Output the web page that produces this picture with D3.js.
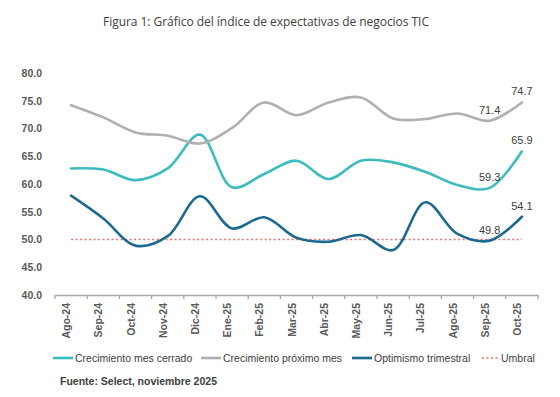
<!DOCTYPE html>
<html>
<head>
<meta charset="utf-8">
<script src="https://cdn.jsdelivr.net/npm/d3@7"></script>
<style>
  body { margin: 0; background: #fff; }
  #chart-container { width: 560px; height: 397px; }
  text { font-family: "Liberation Sans", Arial, sans-serif; }
</style>
</head>
<body>
<div id="chart-container"></div>
<script>
// Data.
const months = ["Ago-24", "Sep-24", "Oct-24", "Nov-24", "Dic-24", "Ene-25", "Feb-25", "Mar-25",
  "Abr-25", "May-25", "Jun-25", "Jul-25", "Ago-25", "Sep-25", "Oct-25"];
const mesCerrado = [62.8, 62.6, 60.7, 62.8, 68.9, 59.4, 61.8, 64.2, 60.9, 64.2, 63.9, 62.2, 59.8, 59.3, 65.9];
const proximoMes = [74.2, 72.0, 69.3, 68.7, 67.3, 70.1, 74.7, 72.4, 74.7, 75.6, 71.8, 71.7, 72.7, 71.4, 74.7];
const optimismo = [57.9, 53.8, 48.9, 50.6, 57.8, 52.0, 54.0, 50.3, 49.6, 50.8, 48.1, 56.7, 51.0, 49.8, 54.1];
const umbral = 50;
const yTicks = [40, 45, 50, 55, 60, 65, 70, 75, 80];

const series = [
  { name: "Crecimiento mes cerrado", values: mesCerrado, color: "#3dbcbf" },
  { name: "Crecimiento próximo mes", values: proximoMes, color: "#b0b0b0" },
  { name: "Optimismo trimestral", values: optimismo, color: "#1d6a91" }
];

// Sizing.
let margin = { top: 73, right: 22, bottom: 102, left: 55 },
  fWidth = 560,
  fHeight = 397,
  width = fWidth - margin.left - margin.right,
  height = fHeight - margin.top - margin.bottom;

let svg = d3.select("#chart-container").append("svg")
  .attr("width", fWidth)
  .attr("height", fHeight);

// Title.
svg.append("text")
  .attr("x", 266)
  .attr("y", 26)
  .attr("text-anchor", "middle")
  .style("font-family", "'Open Sans', 'Noto Sans', sans-serif")
  .style("font-size", "12px")
  .attr("fill", "#404040")
  .attr("textLength", 326)
  .text("Figura 1: Gráfico del índice de expectativas de negocios TIC");

let chart = svg.append("g")
  .attr("transform", `translate(${ margin.left } ${ margin.top })`);

// Scales.
let xScale = d3.scaleBand()
  .domain(months)
  .range([0, width]);
let bandwidth = xScale.bandwidth();

let yScale = d3.scaleLinear()
  .domain([40, 80])
  .range([height, 0]);

// X axis.
let xAxis = chart.append("g")
  .attr("transform", `translate(0 ${ height })`)
  .call(d3.axisBottom(xScale).tickSize(0));
xAxis.select(".domain").attr("stroke", "#a6a6a6").attr("stroke-width", 1.3);
xAxis.selectAll("text")
  .style("text-anchor", "end")
  .style("font-size", "10.5px")
  .style("font-weight", "bold")
  .attr("fill", "#595959")
  .attr("dx", -8)
  .attr("dy", -4)
  .attr("transform", "rotate(-90)");

// Boundary ticks between categories.
chart.append("g")
  .selectAll("line")
  .data(d3.range(months.length + 1))
  .enter()
  .append("line")
    .attr("x1", i => i * bandwidth)
    .attr("x2", i => i * bandwidth)
    .attr("y1", height)
    .attr("y2", height + 4)
    .attr("stroke", "#a6a6a6")
    .attr("stroke-width", 1.3);

// Y axis labels.
let yAxis = chart.append("g")
  .call(d3.axisLeft(yScale).tickValues(yTicks).tickFormat(d3.format(".1f")).tickSize(0).tickPadding(13));
yAxis.select(".domain").remove();
yAxis.selectAll("text")
  .style("font-size", "10.5px")
  .style("font-weight", "bold")
  .attr("fill", "#595959");

// Threshold line.
chart.append("line")
  .attr("x1", xScale(months[0]) + bandwidth / 2)
  .attr("x2", xScale(months[months.length - 1]) + bandwidth / 2)
  .attr("y1", yScale(umbral))
  .attr("y2", yScale(umbral))
  .attr("stroke", "#f26d6d")
  .attr("stroke-width", 1.3)
  .attr("stroke-dasharray", "2 2.5");

// Lines.
let pathGen = d3.line()
  .x((d, i) => xScale(months[i]) + bandwidth / 2)
  .y(d => yScale(d))
  .curve(d3.curveCatmullRom.alpha(0.5));

chart.append("g")
  .selectAll("path")
  .data(series)
  .enter()
  .append("path")
    .attr("d", d => pathGen(d.values))
    .attr("fill", "none")
    .attr("stroke", d => d.color)
    .attr("stroke-width", 2.6)
    .attr("stroke-linecap", "round");

// Data labels on last two points.
let labels = [];
series.forEach(s => {
  [months.length - 2, months.length - 1].forEach(i => {
    labels.push({ i: i, v: s.values[i] });
  });
});
chart.append("g")
  .selectAll("text")
  .data(labels)
  .enter()
  .append("text")
    .attr("x", d => xScale(months[d.i]) + bandwidth / 2)
    .attr("y", d => yScale(d.v) - 7)
    .attr("text-anchor", "middle")
    .style("font-size", "11px")
    .attr("fill", "#404040")
    .text(d => d3.format(".1f")(d.v));

// Legend.
let legendItems = [
  { name: series[0].name, color: series[0].color, x: 53, dash: null, w: 20, sw: 2.6 },
  { name: series[1].name, color: series[1].color, x: 201, dash: null, w: 20, sw: 2.6 },
  { name: series[2].name, color: series[2].color, x: 352, dash: null, w: 20, sw: 2.6 },
  { name: "Umbral", color: "#f26d6d", x: 482, dash: "2 2.5", w: 17, sw: 1.3 }
];
let legend = svg.append("g").attr("transform", "translate(0 358)");
let li = legend.selectAll("g")
  .data(legendItems)
  .enter()
  .append("g")
    .attr("transform", d => `translate(${ d.x } 0)`);
li.append("line")
  .attr("x1", 0)
  .attr("x2", d => d.w)
  .attr("stroke", d => d.color)
  .attr("stroke-width", d => d.sw)
  .attr("stroke-dasharray", d => d.dash);
li.append("text")
  .attr("x", d => d.w + 2)
  .attr("dy", "0.35em")
  .style("font-size", "10.5px")
  .attr("fill", "#404040")
  .text(d => d.name);

// Source.
svg.append("text")
  .attr("x", 60)
  .attr("y", 385)
  .style("font-size", "10.5px")
  .style("font-weight", "bold")
  .attr("fill", "#404040")
  .text("Fuente: Select, noviembre 2025");
</script>
</body>
</html>
